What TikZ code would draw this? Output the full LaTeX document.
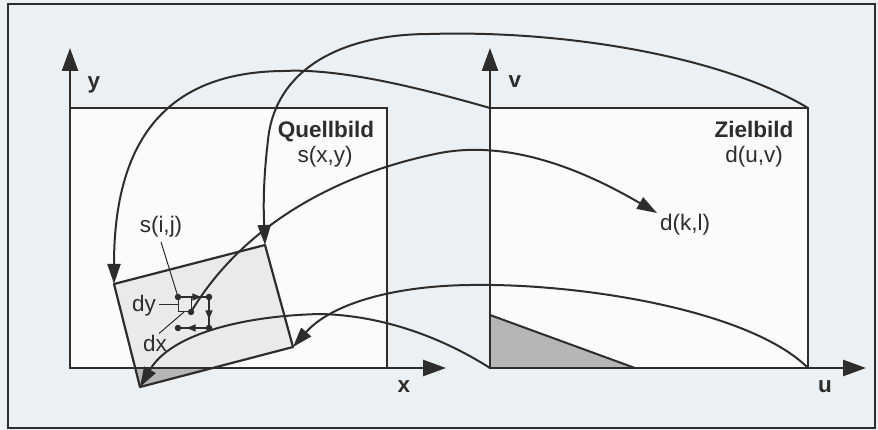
\documentclass[tikz,border=0pt]{standalone}
\usepackage{fontspec}
\setmainfont{Liberation Sans}
\usetikzlibrary{arrows.meta,calc}
\definecolor{bgc}{RGB}{236,240,243}
\definecolor{ink}{RGB}{45,45,45}
\definecolor{paper}{RGB}{251,251,251}
\definecolor{shadeL}{RGB}{234,234,234}
\definecolor{shadeD}{RGB}{182,182,182}
\begin{document}
\begin{tikzpicture}[x=1pt,y=-1pt,
  box/.style={draw=ink, line width=2.4pt, fill=paper},
  axis/.style={draw=ink, line width=2.4pt, -{Triangle[length=23pt,width=16pt]}},
  curve/.style={draw=ink, line width=2pt, -{Triangle[length=20pt,width=13pt]}},
  thinline/.style={draw=ink, line width=1pt},
  gridline/.style={draw=ink, line width=1.8pt},
  minitip/.style={gridline, -{Triangle[length=9pt,width=7pt]}},
  lab/.style={font=\fontsize{22.5}{26}\selectfont, text=ink, inner sep=0pt, anchor=base},
  blab/.style={font=\fontsize{22.5}{26}\selectfont\bfseries, text=ink, inner sep=0pt, anchor=base},
  dot/.style={circle, fill=ink, inner sep=0pt, minimum size=6.5pt}
]
\fill[bgc] (0,0) rectangle (878,430);
\useasboundingbox (0,0) rectangle (878,430);
\draw[ink, line width=1.2pt] (8,4) rectangle (875,428);

% corners
\coordinate (O) at (70,368);
\coordinate (Otl) at (70,108);
\coordinate (Obr) at (387,368);
\coordinate (Z) at (490,368);
\coordinate (Ztl) at (490,108);
\coordinate (Ztr) at (808,108);
\coordinate (Zbr) at (808,368);
\coordinate (A) at (114,284);
\coordinate (B) at (265,245);
\coordinate (C) at (293,347);
\coordinate (D) at (140,387);
\coordinate (Dx1) at (135,368);
\coordinate (Dx2) at (213,368);
\coordinate (Zs1) at (490,315);
\coordinate (Zs2) at (635,368);
\coordinate (ytip) at (70,48);
\coordinate (xtip) at (446,368);
\coordinate (vtip) at (490,48);
\coordinate (utip) at (866,368);
\coordinate (kl) at (657,213);

% image rectangles
\path[box] (Otl) rectangle (Obr);
\path[box] (Ztl) rectangle (Zbr);

% shaded corner in target
\fill[shadeD] (Z) -- (Zs1) -- (Zs2) -- cycle;
\draw[ink, line width=2pt] (Zs1) -- (Zs2);

% rotated rectangle in source
\fill[shadeL] (A) -- (B) -- (C) -- (D) -- cycle;
\fill[shadeD] (Dx1) -- (Dx2) -- (D) -- cycle;
\draw[ink, line width=2.2pt, line join=round] (A) -- (B) -- (C) -- (D) -- cycle;

% axes
\draw[axis] (O) -- (ytip);
\draw[axis] (O) -- (xtip);
\draw[axis] (Z) -- (vtip);
\draw[axis] (Z) -- (utip);

% pixel grid
\coordinate (P1) at (178,297);
\coordinate (P2) at (209,297);
\coordinate (P3) at (209,328);
\coordinate (P4) at (178,328);
\coordinate (Q) at (191,312);
\coordinate (Lsq) at (178,305);
\coordinate (Bsq) at (184,312);
\draw[thinline] (P1) rectangle (Q);
\draw[gridline] (P1) -- (P2) -- (P3) -- (P4);
\draw[minitip] (P1) -- ($(P1)!0.75!(P2)$);
\draw[minitip] (P2) -- ($(P2)!0.72!(P3)$);
\draw[minitip] (P3) -- ($(P3)!0.72!(P4)$);
\foreach \p in {P1,P2,P3,P4,Q} \node[dot] (d\p) at (\p) {};

% labels
\node[blab] (ylab) at (94,89) {y};
\node[blab] (xlab) at (404,392) {x};
\node[blab] (vlab) at (515,88) {v};
\node[blab] (ulab) at (825,392) {u};
\node[blab] (qb) at (326,138) {Quellbild};
\node[lab] (sxy) at (325,163) {s(x,y)};
\node[blab] (zb) at (754,138) {Zielbild};
\node[lab] (duv) at (754,163) {d(u,v)};
\node[lab] (dkl) at (685,231) {d(k,l)};
\node[lab] (sij) at (161,233) {s(i,j)};
\node[lab] (dy) at (144,312) {dy};
\node[lab] (dx) at (155,352) {dx};

% pointers
\draw[thinline] ([yshift=-4pt]sij.south) -- (P1);
\draw[thinline] (Lsq) -- ([xshift=3pt]Lsq -| dy.east);
\draw[thinline] ([xshift=4pt,yshift=2pt]dx.north) -- (Bsq);

% mapping curves
\draw[curve] (Ztl) .. controls (420,88) and (340,68) .. (283,71)
  .. controls (180,72) and (114,125) .. (A);
\draw[curve] (Ztr) .. controls (720,55) and (560,30) .. (430,34)
  .. controls (340,34) and (275,70) .. (268,140)
  .. controls (262,190) and (264,220) .. (B);
\draw[curve] (Q) .. controls (240,230) and (330,175) .. (440,153)
  .. controls (520,138) and (600,180) .. (kl);
\draw[curve] (Zbr) .. controls (750,310) and (580,283) .. (470,285)
  .. controls (390,286) and (330,305) .. (C);
\draw[curve] (Z) .. controls (430,330) and (370,315) .. (320,314)
  .. controls (240,316) and (170,335) .. (D);
\end{tikzpicture}
\end{document}
